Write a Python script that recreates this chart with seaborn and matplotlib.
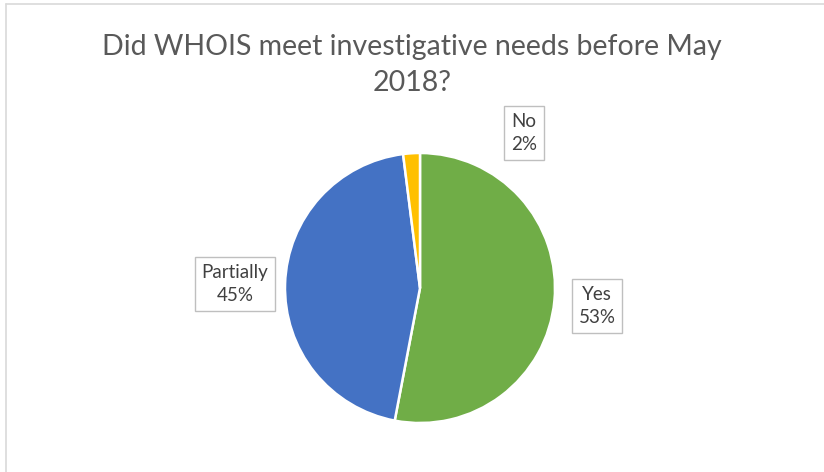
import matplotlib
matplotlib.use("Agg")
import matplotlib.pyplot as plt
import seaborn as sns
from matplotlib.lines import Line2D

# data
labels = ["Yes", "Partially", "No"]
values = [53, 45, 2]
colors = ["#70AD47", "#4472C4", "#FFC000"]

title = "Did WHOIS meet investigative needs before May\n2018?"

sns.set_theme(style="white")
plt.rcParams['font.family'] = ['Lato', 'DejaVu Sans']

fig = plt.figure(figsize=(8.24, 4.72), dpi=100)
ax = fig.add_axes([0, 0, 1, 1])

# pie in pixel coords, y measured from bottom
wedges, _ = ax.pie(
    values,
    colors=colors,
    startangle=90,
    counterclock=False,
    center=(420, 472 - 288),
    radius=135,
    wedgeprops=dict(edgecolor="white", linewidth=1.8),
    frame=True,
)
ax.set_xlim(0, 824)
ax.set_ylim(0, 472)
ax.set_aspect("equal")
ax.axis("off")

# data labels with boxes
label_pos = {"Yes": (597, 306), "Partially": (235, 284), "No": (524, 133)}
for lab, val in zip(labels, values):
    x, y = label_pos[lab]
    ax.text(x, 472 - y, f"{lab}\n{val}%", ha="center", va="center",
            fontsize=13.5, color="#404040", linespacing=1.45,
            bbox=dict(boxstyle="square,pad=0.35", fc="white", ec="#BFBFBF", lw=1))

ax.text(412, 472 - 65, title, ha="center", va="center", fontsize=20.5,
        color="#595959", linespacing=1.45)

# chart frame
fig.add_artist(Line2D([6 / 824, 6 / 824], [0, 1 - 4 / 472], color="#D9D9D9", lw=1.2))
fig.add_artist(Line2D([6 / 824, 1], [1 - 4 / 472, 1 - 4 / 472], color="#D9D9D9", lw=1.2))

fig.savefig("out.png", dpi=100)
